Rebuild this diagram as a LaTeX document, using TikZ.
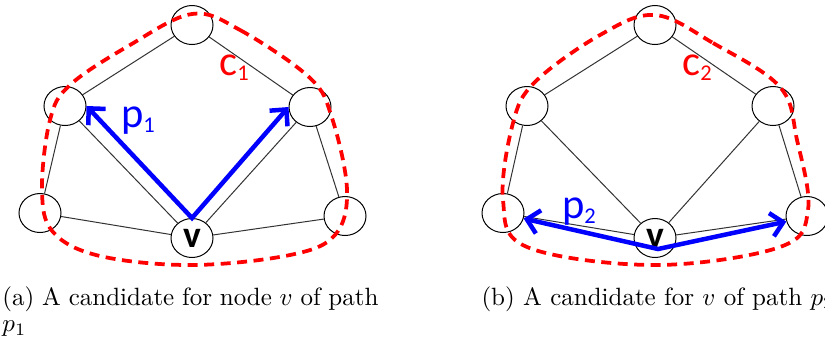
\documentclass[tikz,border=0pt]{standalone}
\usepackage{fontspec}
\newfontfamily\calib{Carlito}
\usetikzlibrary{shapes.geometric, arrows.meta}
\newcommand\sublab[2]{#1{\fontsize{9}{9}\selectfont\raisebox{-2pt}{#2}}}

\begin{document}
\begin{tikzpicture}[x=0.4pt, y=-0.4pt, >={Straight Barb[length=4.8pt,width=9.5pt]},
    vtx/.style={ellipse, draw, line width=0.4pt, minimum width=16.8pt, minimum height=15.6pt,
      inner sep=0pt, font=\calib\bfseries\fontsize{15}{15}\selectfont},
    edge/.style={line width=0.4pt, black!80},
    cyc/.style={red, line width=1.5pt, dash pattern=on 4pt off 2.6pt},
    walk/.style={blue, line width=1.8pt},
    lbl/.style={font=\calib\fontsize{17}{17}\selectfont, inner sep=0pt},
    captext/.style={font=\fontsize{10}{10.4}\selectfont, inner sep=0pt}]
  \useasboundingbox (0,0) rectangle (825,343);
  % ---------------- (a) cycle c_1 and path p_1
  \begin{scope}
    \node[vtx] (aT) at (192,25) {};
    \node[vtx] (aUL) at (65,106) {};
    \node[vtx] (aUR) at (310,107) {};
    \node[vtx] (aLL) at (40,213) {};
    \node[vtx] (aLR) at (345,216) {};
    \node[vtx] (av) at (192,238) {v};
    \foreach \a/\b in {T/UL, T/UR, UL/LL, UR/LR, LL/v, LR/v, UL/v, UR/v}
      \draw[edge] (a\a) -- (a\b);
    \draw[cyc] plot[smooth cycle, tension=0.6] coordinates {(192,14) (240,30) (310,78) (332,118)
      (347,190) (335,235) (290,255) (192,265) (100,256) (53,232) (42,190) (50,120) (70,85) (130,45)};
    \draw[walk, <->] (aUL.east) -- (av.north) -- (aUR.west);
    \node[lbl, red] (c1) at (234,68) {\sublab{c}{1}};
    \node[lbl, blue] (p1) at (138,121) {\sublab{p}{1}};
    \node[captext, anchor=north west, text width=150.4pt, align=justify] (capa) at (2,286)
      {(a) A candidate for node $v$ of path $p_1$};
  \end{scope}
  % ---------------- (b) cycle c_2 and path p_2
  \begin{scope}
    \node[vtx] (bT) at (655,25) {};
    \node[vtx] (bUL) at (527,106) {};
    \node[vtx] (bUR) at (773,106) {};
    \node[vtx] (bLL) at (503,213) {};
    \node[vtx] (bLR) at (807,216) {};
    \node[vtx] (bv) at (655,238) {v};
    \foreach \a/\b in {T/UL, T/UR, UL/LL, UR/LR, LL/v, LR/v, UL/v, UR/v}
      \draw[edge] (b\a) -- (b\b);
    \draw[cyc] plot[smooth cycle, tension=0.6] coordinates {(655,15) (713,43) (780,87) (797,140)
      (808,210) (780,247) (655,265) (527,247) (503,200) (513,123) (535,82) (600,35)};
    \coordinate (bmid) at (658,249);
    \draw[walk, <->] (bLL.-15) -- (bmid) -- (bLR.195);
    \node[lbl, red] (c2) at (697,68) {\sublab{c}{2}};
    \node[lbl, blue] (p2) at (579,212) {\sublab{p}{2}};
    \node[captext, anchor=base west] (capb) at (481,305)
      {(b) A candidate for $v$ of path $p_2$};
  \end{scope}
\end{tikzpicture}
\end{document}
